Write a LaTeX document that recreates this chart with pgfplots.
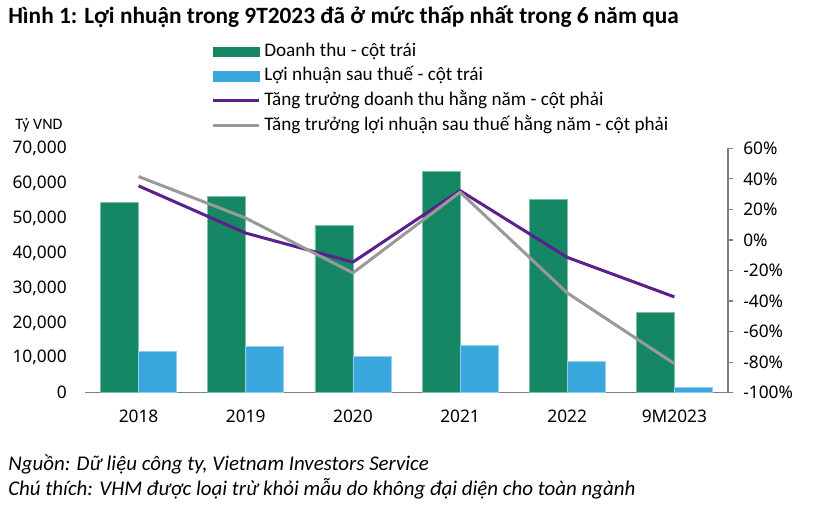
\documentclass[border=0pt]{standalone}
\usepackage{fontspec}
\setmainfont{Carlito}
\newfontfamily\tickfont{Noto Sans}
\usepackage{pgfplots}
\pgfplotsset{compat=1.18}

\definecolor{cGreen}{RGB}{22,135,100}
\definecolor{cBlue}{RGB}{58,167,222}
\definecolor{cPurple}{RGB}{90,32,140}
\definecolor{cGray}{RGB}{153,153,153}
\definecolor{cAxis}{RGB}{128,128,128}

% image pixel coordinates: (x, y from top) -> tikz (x, 514-y), 1px = 0.75pt
\begin{document}
\begin{tikzpicture}[x=0.75pt,y=0.75pt]
\useasboundingbox (0,0) rectangle (822,514);
\coordinate (O) at (85,121.3);

% title and notes
\node[anchor=west,inner sep=0pt,font=\bfseries\fontsize{17.5}{19}\selectfont] at (8,497)
  {Hình 1: Lợi nhuận trong 9T2023 đã ở mức thấp nhất trong 6 năm qua};
\node[anchor=west,inner sep=0pt,font=\fontsize{12}{14}\selectfont] at (15,389) {Tỷ VND};
\node[anchor=west,inner sep=0pt,font=\itshape\fontsize{15.7}{17}\selectfont] at (8,50)
  {Nguồn: Dữ liệu công ty, Vietnam Investors Service};
\node[anchor=west,inner sep=0pt,font=\itshape\fontsize{15.7}{17}\selectfont] at (8,25)
  {Chú thích: VHM được loại trừ khỏi mẫu do không đại diện cho toàn ngành};

% bars, left axis
\begin{axis}[
  at={(O)}, anchor=south west,
  scale only axis, width=482.25pt, height=183.3pt,
  xmin=-0.5, xmax=5.5, ymin=0, ymax=70000,
  ybar=0pt, bar width=28.5pt,
  axis x line*=bottom, axis y line*=left,
  x axis line style={draw=cAxis, line width=0.9pt, -},
  y axis line style={draw=none},
  xtick={0,...,5},
  xticklabels={2018,2019,2020,2021,2022,9M2023},
  ytick={0,10000,...,70000},
  scaled y ticks=false,
  major tick length=0pt,
  /pgf/number format/assume math mode=true,
  /pgf/number format/1000 sep={,},
  xticklabel style={font=\tickfont\fontsize{13}{13}\selectfont, inner sep=0pt, yshift=-12.5pt},
  yticklabel style={font=\tickfont\fontsize{13}{13}\selectfont, inner sep=0pt, xshift=-13.5pt},
]
\addplot[fill=cGreen, draw=cGreen!55!white, line width=0.5pt] coordinates {
  (0,54400) (1,56300) (2,48000) (3,63300) (4,55450) (5,23000)};
\addplot[fill=cBlue, draw=cBlue!55!white, line width=0.5pt] coordinates {
  (0,11850) (1,13370) (2,10500) (3,13650) (4,8880) (5,1550)};
\end{axis}

% growth lines, right axis
\begin{axis}[
  at={(O)}, anchor=south west,
  scale only axis, width=482.25pt, height=183.3pt,
  xmin=-0.5, xmax=5.5, ymin=-100, ymax=60,
  axis x line=none, axis y line*=right,
  y axis line style={draw=cAxis, line width=0.9pt, -},
  ytick={-100,-80,...,60},
  ytick style={draw=cAxis, line width=0.9pt},
  tick align=outside, major tick length=3.75pt,
  yticklabel={\pgfmathprintnumber{\tick}\%},
  /pgf/number format/assume math mode=true,
  yticklabel style={font=\tickfont\fontsize{13}{13}\selectfont, inner sep=0pt, xshift=7.5pt},
  legend style={at={(axis description cs:0.197,1.435)}, anchor=north west,
    draw=none, fill=none, inner sep=0pt, row sep=4.5pt,
    font=\fontsize{14.4}{16}\selectfont,
    nodes={inner sep=0pt, text height=10.5pt, text depth=3.5pt},
    cells={anchor=west}, column sep=3pt},
]
\addlegendimage{legend image code/.code={\fill[cGreen] (0pt,-3.2pt) rectangle (34pt,3.2pt);}}
\addlegendentry{Doanh thu - cột trái}
\addlegendimage{legend image code/.code={\fill[cBlue] (0pt,-3.6pt) rectangle (34pt,3.6pt);}}
\addlegendentry{Lợi nhuận sau thuế - cột trái}
\addplot[cPurple, line width=2.25pt, line join=round,
  legend image code/.code={\draw[cPurple, line width=2.25pt] (0pt,0pt) -- (34pt,0pt);}]
  coordinates {(0,35.4) (1,4.5) (2,-14.5) (3,32.3) (4,-11.4) (5,-37.3)};
\addlegendentry{Tăng trưởng doanh thu hằng năm - cột phải}
\addplot[cGray, line width=2.25pt, line join=round,
  legend image code/.code={\draw[cGray, line width=2.25pt] (0pt,0pt) -- (34pt,0pt);}]
  coordinates {(0,41.5) (1,14.3) (2,-21.6) (3,31.3) (4,-34.7) (5,-81)};
\addlegendentry{Tăng trưởng lợi nhuận sau thuế hằng năm - cột phải}
\end{axis}
\end{tikzpicture}
\end{document}
